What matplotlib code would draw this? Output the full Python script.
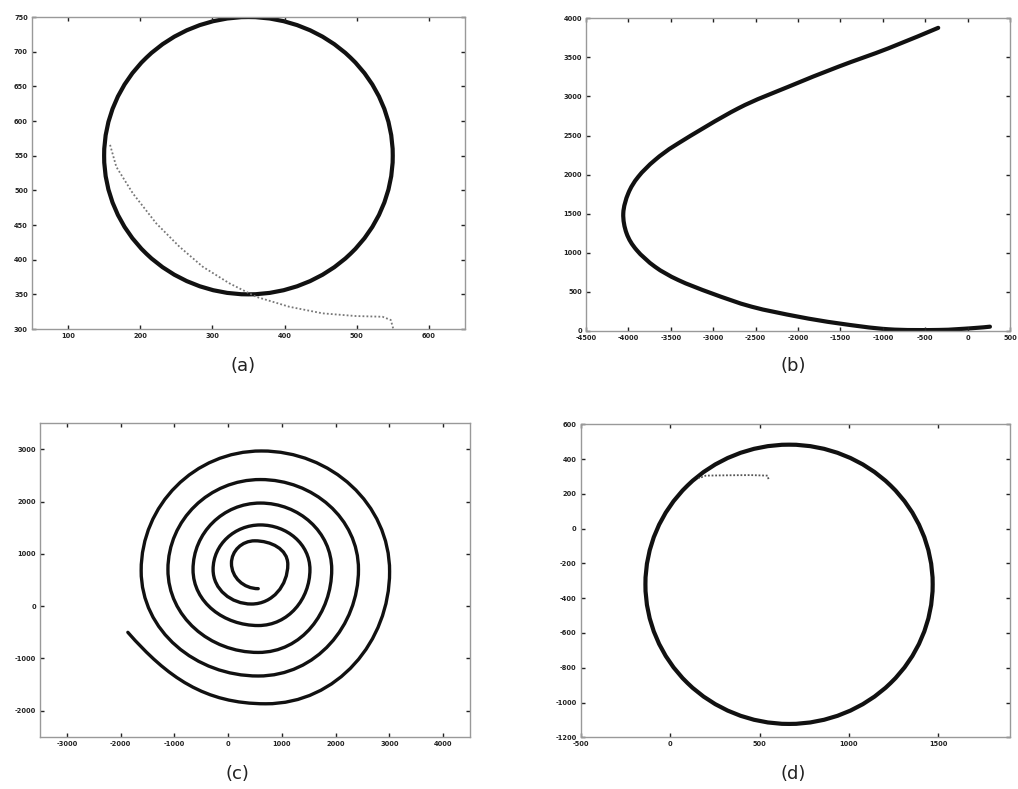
import numpy as np
import matplotlib
matplotlib.use("Agg")
import matplotlib.pyplot as plt
from matplotlib.path import Path
from matplotlib.patches import Circle, PathPatch

plt.rcParams["axes.unicode_minus"] = False

# (a) circle target and pursuit track
a_circle_center = (350, 550)
a_circle_radius = 200
a_track_x = [550.5, 547.3, 535.7, 498.9, 452.7, 406.6, 360.6, 323.6, 286.7, 254.5, 222.3, 189.9, 166.9, 157.7]
a_track_y = [301.0, 313.0, 317.7, 318.7, 322.6, 332.1, 346.5, 365.9, 389.8, 418.6, 452.3, 495.5, 533.9, 567.6]
a_xticks = [100, 200, 300, 400, 500, 600]
a_yticks = [300, 350, 400, 450, 500, 550, 600, 650, 700, 750]

# (b) parabola-like trajectory
b_x = [-346, -936, -1525, -2114, -2704, -3412, -3686, -3883, -4001, -4060,
       -4021, -3903, -3686, -3412, -3019, -2547, -1997, -1525, -936, -346, 47, 264]
b_y = [3878, 3615, 3380, 3124, 2848, 2400, 2187, 1973, 1761, 1505,
       1249, 1036, 822, 652, 482, 311, 183, 98, 22, 13, 35, 55]
b_xticks = [-4500, -4000, -3500, -3000, -2500, -2000, -1500, -1000, -500, 0, 500]
b_yticks = [0, 500, 1000, 1500, 2000, 2500, 3000, 3500, 4000]

# (c) spiral, read at bottom / left / top / right extremes of each turn
c_x = [560, 62, 495, 1110, 435, -280, 600, 1522, 560, -653, 600, 1927, 560,
       -1120, 600, 2425, 560, -1618, 620, 3004, 700, -1866]
c_y = [334, 820, 1250, 797, 40, 700, 1554, 700, -372, 700, 1973, 700, -887,
       700, 2423, 700, -1338, 680, 2970, 660, -1870, -502]
c_end_dir = (-0.65, 0.76)
c_xticks = [-3000, -2000, -1000, 0, 1000, 2000, 3000, 4000]
c_yticks = [-2000, -1000, 0, 1000, 2000, 3000]

# (d) circle target and pursuit track
d_circle_center = (665, -320)
d_circle_radius = 803
d_track_x = [550, 545, 450, 330, 200, 160]
d_track_y = [285, 305, 308, 307, 305, 290]
d_xticks = [-500, 0, 500, 1000, 1500]
d_yticks = [-1200, -1000, -800, -600, -400, -200, 0, 200, 400, 600]


def smooth_path(xs, ys, k):
    pts = np.column_stack([xs, ys]).astype(float)
    verts = [pts[0]]
    codes = [Path.MOVETO]
    n = len(pts)
    for i in range(n - 1):
        p0 = pts[max(i - 1, 0)]
        p1 = pts[i]
        p2 = pts[i + 1]
        p3 = pts[min(i + 2, n - 1)]
        verts += [p1 + (p2 - p0) * k, p2 - (p3 - p1) * k, p2]
        codes += [Path.CURVE4] * 3
    return Path(verts, codes)


def spiral_path(xs, ys, end_dir):
    # extremes alternate between horizontal and vertical tangents
    pts = np.column_stack([xs, ys]).astype(float)
    n = len(pts)
    verts = [pts[0]]
    codes = [Path.MOVETO]
    for i in range(n - 1):
        p1, p2 = pts[i], pts[i + 1]
        h = 0.39 * np.hypot(*(p2 - p1))
        a1 = i % 2
        t1 = np.zeros(2)
        t1[a1] = np.sign(p2[a1] - p1[a1])
        if i + 1 == n - 1:
            t2 = np.array(end_dir)
        else:
            a2 = (i + 1) % 2
            t2 = np.zeros(2)
            t2[a2] = np.sign(p2[a2] - p1[a2])
        verts += [p1 + t1 * h, p2 - t2 * h, p2]
        codes += [Path.CURVE4] * 3
    return Path(verts, codes)


def style_axes(ax, xlim, ylim, xticks, yticks):
    ax.set_xlim(*xlim)
    ax.set_ylim(*ylim)
    ax.set_xticks(xticks)
    ax.set_yticks(yticks)
    ax.tick_params(direction="in", length=3, width=1, top=True, right=True,
                   labelsize=4.8, pad=3, colors="#222222")
    for lab in ax.get_xticklabels() + ax.get_yticklabels():
        lab.set_fontweight("bold")
    for sp in ax.spines.values():
        sp.set_color("#999999")
        sp.set_linewidth(1)


fig = plt.figure(figsize=(10.18, 7.89), dpi=100)

# (a)
ax = fig.add_axes([0.0314, 0.583, 0.4253, 0.3954])
ax.add_patch(Circle(a_circle_center, a_circle_radius, fill=False, lw=3, ec="#111111"))
ax.plot(a_track_x, a_track_y, color="#777777", lw=1.3, linestyle=(0, (1, 1.2)))
style_axes(ax, (50, 650), (300, 750), a_xticks, a_yticks)

# (b)
ax = fig.add_axes([0.5756, 0.5805, 0.4165, 0.3963])
ax.add_patch(PathPatch(smooth_path(b_x, b_y, 1 / 6), fill=False, lw=3,
                       ec="#111111", capstyle="round"))
style_axes(ax, (-4500, 500), (0, 4000), b_xticks, b_yticks)

# (c)
ax = fig.add_axes([0.0393, 0.0663, 0.4224, 0.3972])
ax.add_patch(PathPatch(spiral_path(c_x, c_y, c_end_dir), fill=False, lw=2.4,
                       ec="#111111", capstyle="round"))
style_axes(ax, (-3500, 4500), (-2500, 3500), c_xticks, c_yticks)

# (d)
ax = fig.add_axes([0.5704, 0.0655, 0.4217, 0.3967])
ax.add_patch(Circle(d_circle_center, d_circle_radius, fill=False, lw=3, ec="#111111"))
ax.plot(d_track_x, d_track_y, color="#555555", lw=1.3, linestyle=(0, (1, 1)))
style_axes(ax, (-500, 1900), (-1200, 600), d_xticks, d_yticks)

for label, x, y in [("(a)", 243, 366), ("(b)", 793, 366), ("(c)", 237, 774), ("(d)", 793, 774)]:
    fig.text(x / 1018, 1 - y / 789, label, ha="center", va="center",
             fontsize=13, color="#222222")

plt.savefig("out.png", dpi=100)
